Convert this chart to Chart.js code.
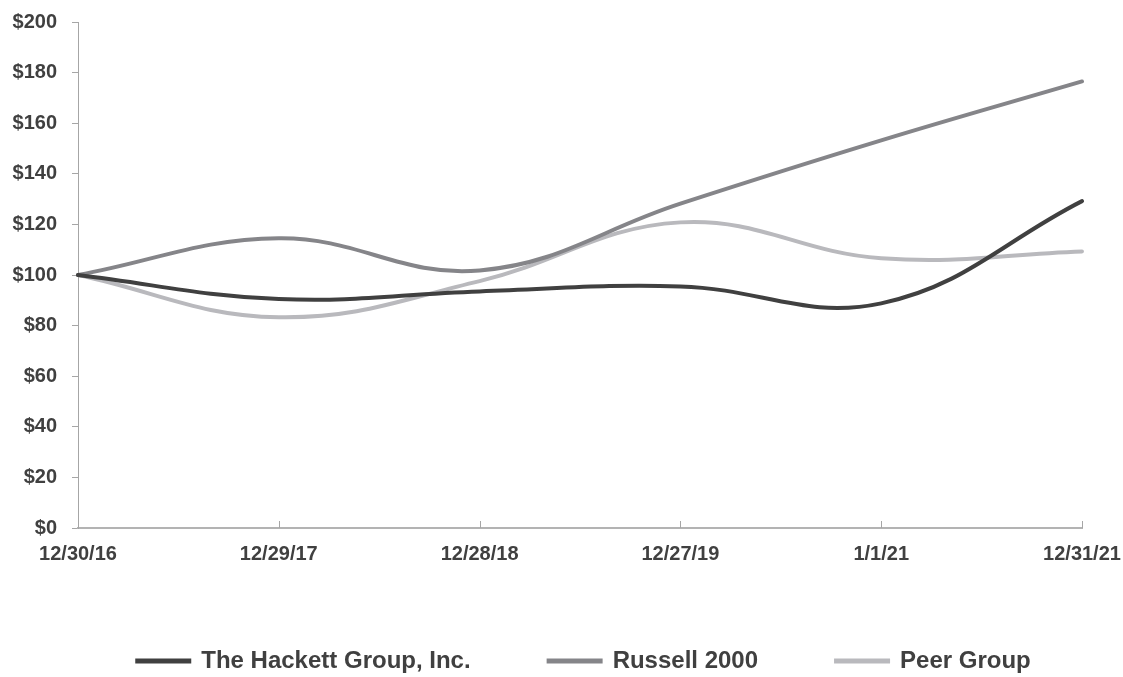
<!DOCTYPE html>
<html>
<head>
<meta charset="utf-8">
<script src="https://cdn.jsdelivr.net/npm/chart.js@4.4.1/dist/chart.umd.min.js"></script>
<style>
  html, body { margin: 0; padding: 0; background: #fff; }
  #wrap { width: 1123px; height: 677px; position: relative; }
</style>
</head>
<body>
<div id="wrap"><canvas id="perfChart"></canvas></div>
<script>
// Data
const dates = ['12/30/16', '12/29/17', '12/28/18', '12/27/19', '1/1/21', '12/31/21'];
const hackett = [100, 90.5, 93.5, 95.5, 88.8, 129.2];
const russell = [100, 114.5, 101.8, 128.2, 153.2, 176.5];
const peerGroup = [100, 83.3, 97.6, 120.8, 106.6, 109.3];

const FONT = "'Liberation Sans', Arial, sans-serif";
const TEXT = '#404040';

// small upward tick marks on the x axis
const xTicksUp = {
    id: 'xTicksUp',
    afterDraw(chart) {
        const { ctx, scales: { x, y } } = chart;
        ctx.save();
        ctx.strokeStyle = '#a6a6a6';
        ctx.lineWidth = 1;
        x.ticks.forEach((t, i) => {
            const px = Math.round(x.getPixelForTick(i)) + 0.5;
            ctx.beginPath();
            ctx.moveTo(px, y.bottom);
            ctx.lineTo(px, y.bottom - 7);
            ctx.stroke();
        });
        ctx.restore();
    }
};

// nudge the legend row to where the reference has it
const legendShift = {
    id: 'legendShift',
    afterLayout(chart) {
        const lg = chart.legend;
        lg.left += 43; lg.right += 43;
        lg.top += 6; lg.bottom += 6;
    }
};

const ctx = document.getElementById('perfChart').getContext('2d');
new Chart(ctx, {
    type: 'line',
    data: {
        labels: dates,
        datasets: [
            { label: 'The Hackett Group, Inc.', data: hackett, borderColor: '#404040', backgroundColor: '#404040' },
            { label: 'Russell 2000', data: russell, borderColor: '#858589', backgroundColor: '#858589' },
            { label: 'Peer Group', data: peerGroup, borderColor: '#b9b9bd', backgroundColor: '#b9b9bd' }
        ]
    },
    options: {
        responsive: true,
        maintainAspectRatio: false,
        animation: false,
        devicePixelRatio: 1,
        layout: { padding: { left: 0, right: 41, top: 22, bottom: 0 } },
        elements: {
            line: { borderWidth: 4, tension: 0.4, borderCapStyle: 'round' },
            point: { radius: 0 }
        },
        plugins: {
            tooltip: { enabled: false },
            legend: {
                position: 'bottom',
                labels: {
                    color: TEXT,
                    font: { family: FONT, size: 24, weight: 'bold' },
                    boxWidth: 52,
                    boxHeight: 1,
                    padding: 78
                }
            }
        },
        scales: {
            x: {
                offset: false,
                grid: { display: false, drawTicks: false },
                border: { color: '#b3b3b3', width: 2 },
                ticks: {
                    color: TEXT,
                    font: { family: FONT, size: 20, weight: 'bold' },
                    padding: 14,
                    maxRotation: 0,
                    autoSkip: false
                },
                afterFit(scale) {
                    scale.height = 37;
                    scale.paddingLeft = 0;
                    scale.paddingRight = 0;
                }
            },
            y: {
                min: 0,
                max: 200,
                grid: { drawOnChartArea: false, drawTicks: true, tickLength: 6, color: '#a6a6a6' },
                border: { color: '#a6a6a6', width: 1 },
                ticks: {
                    stepSize: 20,
                    color: TEXT,
                    font: { family: FONT, size: 20, weight: 'bold' },
                    padding: 15,
                    callback: v => '$' + v
                },
                afterFit(scale) {
                    scale.width = 78;
                    scale.paddingTop = 0;
                    scale.paddingBottom = 0;
                }
            }
        }
    },
    plugins: [xTicksUp, legendShift]
});
</script>
</body>
</html>
